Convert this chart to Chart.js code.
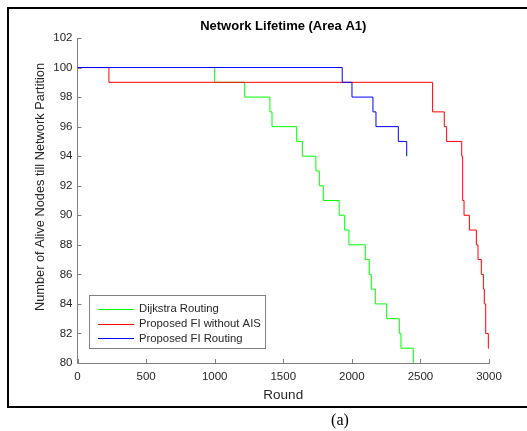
<!DOCTYPE html>
<html>
<head>
<meta charset="utf-8">
<script src="https://cdn.jsdelivr.net/npm/chart.js@4"></script>
<style>
  html, body { margin: 0; padding: 0; background: #fff; }
  #wrap { width: 527px; height: 431px; }
</style>
</head>
<body>
<div id="wrap"><canvas id="chart" width="527" height="431"></canvas></div>
<script>
// values (round at which the alive-node count drops)
const seriesNames = ['Dijkstra Routing', 'Proposed FI without AIS', 'Proposed FI Routing'];
const seriesColors = ['#00ff00', '#ff0000', '#0000ff'];

const roundsDijkstra = [0, 1000, 1219, 1403, 1418, 1598, 1639, 1738, 1763, 1792, 1908, 1948, 1979, 2098, 2127, 2142, 2171, 2254, 2346, 2358, 2448];
const aliveDijkstra  = [100, 99, 98, 97, 96, 95, 94, 93, 92, 91, 90, 89, 88, 87, 86, 85, 84, 83, 82, 81, 80];

const roundsNoAis = [0, 229, 2589, 2674, 2691, 2801, 2808, 2818, 2857, 2908, 2920, 2944, 2959, 2966, 2976, 2995, 3000];
const aliveNoAis  = [100, 99, 97, 96, 95, 94, 91, 90, 89, 88, 87, 86, 85, 84, 82, 81, 81];

const roundsFi = [0, 1930, 2001, 2154, 2176, 2339, 2400];
const aliveFi  = [100, 99, 98, 97, 96, 95, 94];

const xTicks = [0, 500, 1000, 1500, 2000, 2500, 3000];
const yTicks = [80, 82, 84, 86, 88, 90, 92, 94, 96, 98, 100, 102];

const toPoints = (xs, ys) => xs.map((x, i) => ({ x: x, y: ys[i] }));

const axisGray = '#808080';
const textDark = '#262626';
const sans = 'Arial, "Liberation Sans", sans-serif';

const decor = {
    id: 'decor',
    afterDraw(chart) {
        const c = chart.ctx;
        const xs = chart.scales.x, ys = chart.scales.y;
        const a = chart.chartArea;
        c.save();

        // inward tick marks
        c.strokeStyle = axisGray;
        c.lineWidth = 1;
        c.beginPath();
        xTicks.forEach(v => {
            const px = Math.round(xs.getPixelForValue(v)) + 0.5;
            c.moveTo(px, a.bottom); c.lineTo(px, a.bottom - 4);
        });
        yTicks.forEach(v => {
            const py = Math.round(ys.getPixelForValue(v)) + 0.5;
            c.moveTo(a.left, py); c.lineTo(a.left + 4, py);
        });
        c.stroke();

        // title
        c.fillStyle = '#000';
        c.font = 'bold 13px ' + sans;
        c.textAlign = 'center';
        c.textBaseline = 'middle';
        c.fillText('Network Lifetime (Area A1)', (a.left + a.right) / 2, 26);

        // axis titles
        c.fillStyle = textDark;
        c.font = '13.5px ' + sans;
        c.fillText('Round', (a.left + a.right) / 2, 395);
        c.save();
        c.translate(40, 187);
        c.rotate(-Math.PI / 2);
        c.font = '12.8px ' + sans;
        c.fillText('Number of Alive Nodes till Network Partition', 0, 0);
        c.restore();

        // legend box
        c.fillStyle = '#fff';
        c.fillRect(89.5, 295.5, 176, 53);
        c.strokeStyle = axisGray;
        c.strokeRect(89.5, 295.5, 176, 53);
        c.font = '11.3px ' + sans;
        c.textAlign = 'left';
        chart.data.datasets.forEach((ds, i) => {
            const ly = 309 + i * 14.7;
            c.strokeStyle = ds.borderColor;
            c.beginPath();
            c.moveTo(98, Math.round(ly) + 0.5); c.lineTo(134, Math.round(ly) + 0.5);
            c.stroke();
            c.fillStyle = textDark;
            c.fillText(ds.label, 139, ly);
        });

        // outer frame and caption
        c.strokeStyle = '#000';
        c.lineWidth = 2;
        c.beginPath();
        c.moveTo(530, 8); c.lineTo(8, 8); c.lineTo(8, 407); c.lineTo(530, 407);
        c.stroke();
        c.fillStyle = '#000';
        c.font = '16px "Liberation Serif", "Times New Roman", serif';
        c.textAlign = 'center';
        c.fillText('(a)', 340, 421);
        c.restore();
    }
};

const chart = new Chart(document.getElementById('chart').getContext('2d'), {
    type: 'line',
    data: {
        datasets: [
            { label: seriesNames[0], data: toPoints(roundsDijkstra, aliveDijkstra), borderColor: seriesColors[0], order: 2 },
            { label: seriesNames[1], data: toPoints(roundsNoAis, aliveNoAis), borderColor: seriesColors[1], order: 1 },
            { label: seriesNames[2], data: toPoints(roundsFi, aliveFi), borderColor: seriesColors[2], order: 0 }
        ]
    },
    options: {
        responsive: false,
        animation: false,
        devicePixelRatio: 1,
        datasets: { line: { stepped: true, borderWidth: 1, pointRadius: 0, fill: false, tension: 0 } },
        layout: { padding: { left: 0, top: 38, right: 38, bottom: 0 } },
        scales: {
            x: {
                type: 'linear', min: 0, max: 3000,
                afterFit: s => { s.height = 68; },
                afterBuildTicks: s => { s.ticks = xTicks.map(v => ({ value: v })); },
                grid: { display: false, drawTicks: false },
                border: { color: axisGray, width: 1 },
                ticks: { color: textDark, font: { family: sans, size: 11.5 }, padding: 7, maxRotation: 0, callback: v => String(v) }
            },
            y: {
                type: 'linear', min: 80, max: 102,
                afterFit: s => { s.width = 77.5; },
                afterBuildTicks: s => { s.ticks = yTicks.map(v => ({ value: v })); },
                grid: { display: false, drawTicks: false },
                border: { color: axisGray, width: 1 },
                ticks: { color: textDark, font: { family: sans, size: 11.5 }, padding: 5, callback: v => String(v) }
            }
        },
        plugins: { legend: { display: false }, title: { display: false }, tooltip: { enabled: false } }
    },
    plugins: [decor]
});
</script>
</body>
</html>
